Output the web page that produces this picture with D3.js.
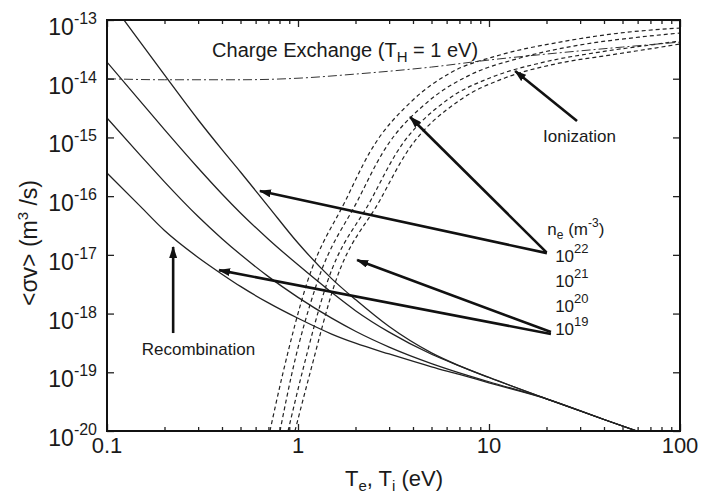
<!DOCTYPE html>
<html>
<head>
<meta charset="utf-8">
<script src="https://cdn.jsdelivr.net/npm/d3@7"></script>
<style>
  html, body { margin: 0; padding: 0; background: #fff; }
  svg { display: block; }
  text { font-family: "Liberation Sans", Arial, Helvetica, sans-serif; fill: #1a1a1a; }
</style>
</head>
<body>
<svg id="chart" width="701" height="496"></svg>
<script>
// Temperature grid (eV) shared by the recombination curves
const recTemps = [0.1, 0.15, 0.2, 0.3, 0.4, 0.5, 0.7, 1, 1.5, 2, 3, 5, 7, 10, 20, 40, 60];

// Recombination rate coefficients <σv> (m^3/s) for each electron density
const rec22 = [2.47e-13, 4.1e-14, 1.16e-14, 2.0e-15, 6.2e-16, 2.58e-16, 6.65e-17, 1.59e-17, 3.94e-18, 1.73e-18, 6.0e-19, 2.14e-19, 1.29e-19, 8.15e-20, 3.54e-20, 1.57e-20, 9.9e-21];
const rec21 = [1.92e-14, 4.07e-15, 1.36e-15, 3.02e-16, 1.09e-16, 5.18e-17, 1.85e-17, 6.76e-18, 2.29e-18, 1.12e-18, 4.82e-19, 2.03e-19, 1.29e-19, 8.18e-20, 3.54e-20, 1.57e-20, 9.9e-21];
const rec20 = [2.14e-15, 4.9e-16, 1.75e-16, 4.49e-17, 1.88e-17, 1.01e-17, 4.26e-18, 1.89e-18, 8.35e-19, 5.0e-19, 2.69e-19, 1.41e-19, 9.8e-20, 6.9e-20, 3.54e-20, 1.57e-20, 9.9e-21];
const rec19 = [2.48e-16, 6.62e-17, 2.6e-17, 9.03e-18, 4.69e-18, 2.9e-18, 1.52e-18, 8.31e-19, 4.48e-19, 3.13e-19, 2.05e-19, 1.24e-19, 9.18e-20, 6.62e-20, 3.54e-20, 1.57e-20, 9.9e-21];

// Ionization rate coefficients: temperatures and <σv> per density
const ionT22 = [0.713, 0.834, 1.114, 1.78, 2.38, 4.0, 6.25, 11.4, 23.5, 48.5, 100];
const ionV22 = [1e-20, 9.7e-20, 3.31e-18, 8.6e-17, 5.64e-16, 4.34e-15, 1.25e-14, 2.53e-14, 4.2e-14, 6.0e-14, 7.3e-14];
const ionT21 = [0.805, 0.93, 1.257, 2.06, 2.79, 4.91, 7.96, 14.5, 29.9, 61.8, 100];
const ionV21 = [1e-20, 9.7e-20, 3.31e-18, 8.6e-17, 5.64e-16, 4.34e-15, 1.16e-14, 2.25e-14, 3.75e-14, 5.13e-14, 6.0e-14];
const ionT20 = [0.887, 1.05, 1.418, 2.41, 3.30, 6.03, 10.1, 18.5, 38.1, 69.7, 100];
const ionV20 = [1e-20, 9.7e-20, 3.31e-18, 8.6e-17, 5.64e-16, 4.34e-15, 1.03e-14, 1.85e-14, 2.85e-14, 3.75e-14, 4.39e-14];
const ionT19 = [0.964, 1.156, 1.563, 2.69, 3.72, 7.05, 12.1, 22.2, 43.0, 74.0, 100];
const ionV19 = [1e-20, 9.7e-20, 3.31e-18, 8.6e-17, 5.64e-16, 4.34e-15, 1.03e-14, 1.78e-14, 2.53e-14, 3.33e-14, 3.9e-14];

// Charge exchange (T_H = 1 eV)
const cxTemps = [0.1, 0.2, 0.5, 1, 2, 5, 10, 20, 50, 100];
const cxVals = [1.0e-14, 9.6e-15, 9.6e-15, 1.02e-14, 1.2e-14, 1.58e-14, 2.08e-14, 2.63e-14, 3.46e-14, 4.2e-14];

// Axis ticks
const xTicks = [0.1, 1, 10, 100];
const xTickLabels = ["0.1", "1", "10", "100"];
const yExponents = [-13, -14, -15, -16, -17, -18, -19, -20];
const densityExponents = [22, 21, 20, 19];

const svg = d3.select("#chart");
const pL = 107, pR = 680, pT = 20, pB = 431;

const x = d3.scaleLog().domain([0.1, 100]).range([pL, pR]);
const y = d3.scaleLog().domain([1e-20, 1e-13]).range([pB, pT]);

const defs = svg.append("defs");
defs.append("clipPath").attr("id", "plotclip")
  .append("rect").attr("x", pL).attr("y", pT)
  .attr("width", pR - pL).attr("height", pB - pT);

const marker = defs.append("marker")
  .attr("id", "head").attr("markerUnits", "userSpaceOnUse")
  .attr("viewBox", "0 0 12 8").attr("refX", 11).attr("refY", 4)
  .attr("markerWidth", 12).attr("markerHeight", 8).attr("orient", "auto");
marker.append("path").attr("d", "M0,0 L12,4 L0,8 Z").attr("fill", "#111");

const plot = svg.append("g").attr("clip-path", "url(#plotclip)");
const line = d3.line().x(d => x(d[0])).y(d => y(d[1])).curve(d3.curveMonotoneX);
const zip = (ts, vs) => ts.map((t, i) => [t, vs[i]]);

// Recombination (solid)
[rec22, rec21, rec20, rec19].forEach(vals => {
  plot.append("path").attr("d", line(zip(recTemps, vals)))
    .attr("fill", "none").attr("stroke", "#222").attr("stroke-width", 1.3);
});

// Ionization (dashed)
[[ionT22, ionV22], [ionT21, ionV21], [ionT20, ionV20], [ionT19, ionV19]].forEach(([ts, vs]) => {
  plot.append("path").attr("d", line(zip(ts, vs)))
    .attr("fill", "none").attr("stroke", "#222").attr("stroke-width", 1.2)
    .attr("stroke-dasharray", "4,3");
});

// Charge exchange (dash-dot)
plot.append("path").attr("d", line(zip(cxTemps, cxVals)))
  .attr("fill", "none").attr("stroke", "#333").attr("stroke-width", 1)
  .attr("stroke-dasharray", "9,3,2,3");

// Frame and ticks
const minorX = [];
for (let e = -1; e < 2; e++) for (let m = 2; m <= 9; m++) minorX.push(m * Math.pow(10, e));

svg.append("g").attr("transform", `translate(0,${pB})`)
  .call(d3.axisBottom(x).tickValues(xTicks).tickSize(-7).tickFormat(""));
svg.append("g").attr("transform", `translate(0,${pB})`)
  .call(d3.axisBottom(x).tickValues(minorX).tickSize(-4).tickFormat(""));
svg.append("g").attr("transform", `translate(0,${pT})`)
  .call(d3.axisTop(x).tickValues(xTicks).tickSize(-7).tickFormat(""));
svg.append("g").attr("transform", `translate(0,${pT})`)
  .call(d3.axisTop(x).tickValues(minorX).tickSize(-4).tickFormat(""));
const yTickVals = yExponents.map(e => Math.pow(10, e));
svg.append("g").attr("transform", `translate(${pL},0)`)
  .call(d3.axisLeft(y).tickValues(yTickVals).tickSize(-7).tickFormat(""));
svg.append("g").attr("transform", `translate(${pR},0)`)
  .call(d3.axisRight(y).tickValues(yTickVals).tickSize(-7).tickFormat(""));
svg.selectAll(".domain").remove();
svg.selectAll(".tick line").attr("stroke", "#222").attr("stroke-width", 1.3);
svg.append("rect").attr("x", pL).attr("y", pT)
  .attr("width", pR - pL).attr("height", pB - pT)
  .attr("fill", "none").attr("stroke", "#111").attr("stroke-width", 2);

// Tick labels
xTicks.forEach((t, i) => {
  svg.append("text").attr("x", x(t)).attr("y", pB + 22)
    .attr("text-anchor", "middle").attr("font-size", 22).text(xTickLabels[i]);
});
yExponents.forEach(e => {
  const t = svg.append("text").attr("x", pL - 10).attr("y", y(Math.pow(10, e)) + 15)
    .attr("text-anchor", "end").attr("font-size", 23);
  t.append("tspan").text("10");
  t.append("tspan").attr("font-size", 16).attr("dy", -11).text(String(e));
});

// Axis titles
const xt = svg.append("text").attr("x", 394).attr("y", 486)
  .attr("text-anchor", "middle").attr("font-size", 22);
xt.append("tspan").text("T");
xt.append("tspan").attr("font-size", 15).attr("dy", 5).text("e");
xt.append("tspan").attr("dy", -5).text(", T");
xt.append("tspan").attr("font-size", 15).attr("dy", 5).text("i");
xt.append("tspan").attr("dy", -5).text("  (eV)");

const yt = svg.append("text").attr("transform", "translate(37,243) rotate(-90)")
  .attr("text-anchor", "middle").attr("font-size", 23);
yt.append("tspan").text("<σv> (m");
yt.append("tspan").attr("font-size", 15).attr("dy", -9).text("3");
yt.append("tspan").attr("dy", 9).text(" /s)");

// Annotations
const cx = svg.append("text").attr("x", x(0.355)).attr("y", y(2.34e-14)).attr("font-size", 20);
cx.append("tspan").text("Charge Exchange (T");
cx.append("tspan").attr("font-size", 15).attr("dy", 5).text("H");
cx.append("tspan").attr("dy", -5).text(" = 1 eV)");

svg.append("text").attr("x", x(19.2)).attr("y", y(8.35e-16)).attr("font-size", 17).text("Ionization");
svg.append("text").attr("x", x(0.152)).attr("y", y(1.96e-19)).attr("font-size", 17).text("Recombination");

const ne = svg.append("text").attr("x", x(20.2)).attr("y", y(2.17e-17)).attr("font-size", 17);
ne.append("tspan").text("n");
ne.append("tspan").attr("font-size", 12).attr("dy", 4).text("e");
ne.append("tspan").attr("dy", -4).text(" (m");
ne.append("tspan").attr("font-size", 12).attr("dy", -8).text("-3");
ne.append("tspan").attr("dy", 8).text(")");

const neY = [7.53e-18, 2.82e-18, 1.06e-18, 4.3e-19];
densityExponents.forEach((e, i) => {
  const t = svg.append("text").attr("x", x(22.2)).attr("y", y(neY[i])).attr("font-size", 17);
  t.append("tspan").text("10");
  t.append("tspan").attr("font-size", 13).attr("dy", -9).text(e);
});

// Arrows: [fromT, fromV, toT, toV]
const arrows = [
  [20.1, 1.07e-17, 0.632, 1.22e-16],
  [20.0, 1.1e-17, 3.86, 2.23e-15],
  [21.1, 4.84e-19, 2.04, 8.15e-18],
  [21.1, 4.48e-19, 0.386, 5.5e-18],
  [28.9, 1.9e-15, 13.7, 1.35e-14],
  [0.222, 4.66e-19, 0.222, 1.36e-17]
];
arrows.forEach(a => {
  svg.append("line")
    .attr("x1", x(a[0])).attr("y1", y(a[1]))
    .attr("x2", x(a[2])).attr("y2", y(a[3]))
    .attr("stroke", "#111").attr("stroke-width", 2.6)
    .attr("marker-end", "url(#head)");
});
</script>
</body>
</html>
